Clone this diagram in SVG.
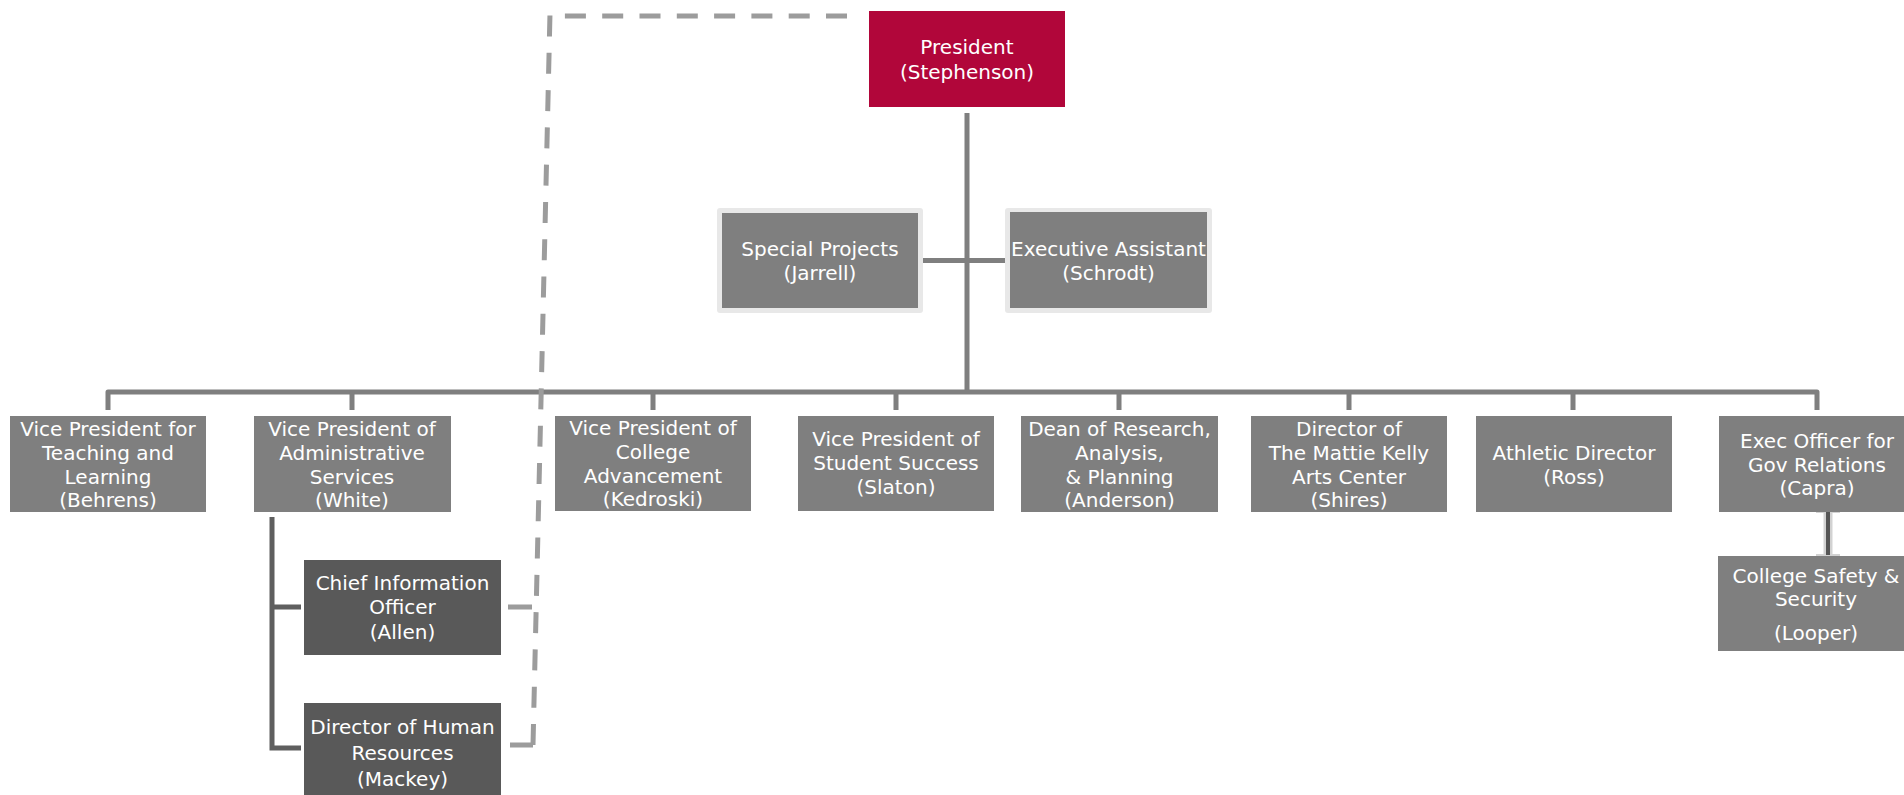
<svg xmlns="http://www.w3.org/2000/svg" width="1904" height="795" viewBox="0 0 1904 795">
<style>
.box{fill:#7f7f7f}
.dark{fill:#595959}
.pres{fill:#b1063a}
.halo{fill:#e8e8e8}
.t{font-family:"DejaVu Sans","Liberation Sans",sans-serif;font-size:20px;fill:#ffffff;text-anchor:middle}
.ln{stroke:#7f7f7f;stroke-width:5;fill:none;stroke-linejoin:round}
.dk{stroke:#5f5f5f;stroke-width:5;fill:none}
.dash{stroke:#9c9c9c;stroke-width:5;fill:none;stroke-dasharray:21 16.3}
.stub{stroke:#9c9c9c;stroke-width:5;fill:none}
</style>
<rect width="1904" height="795" fill="#ffffff"/>
<g id="connectors">
  <path class="ln" d="M967,113 V392"/>
  <path class="ln" d="M923,260.5 H1005"/>
  <path class="ln" d="M108,410 V392 H1817 V410"/>
  <path class="ln" d="M352,392 V410 M653,392 V410 M896,392 V410 M1119,392 V410 M1349,392 V410 M1573,392 V410"/>
  <path class="dk" d="M272,517 V748 H301 M272,607 H301"/>
  <path stroke="#d2d2d2" stroke-width="9" fill="none" d="M1828,512 V555"/>
  <path stroke="#d2d2d2" stroke-width="2" fill="none" d="M1816,512 H1840 M1816,555 H1840"/>
  <path stroke="#555555" stroke-width="4" fill="none" d="M1828,512 V555"/>
  <path class="dash" d="M533,745 L550,13"/>
  <path class="dash" d="M847,16 H550"/>
  <path class="stub" d="M508,607 H532 M510,745 H533"/>
</g>
<g id="president">
  <rect class="pres" x="869" y="11" width="196" height="96"/>
  <text class="t" x="967" y="54">President</text>
  <text class="t" x="967" y="79">(Stephenson)</text>
</g>
<g id="special-projects">
  <rect class="halo" x="717" y="208" width="206" height="105" rx="3"/>
  <rect class="box" x="722" y="213" width="196" height="95"/>
  <text class="t" x="820" y="256">Special Projects</text>
  <text class="t" x="820" y="280">(Jarrell)</text>
</g>
<g id="executive-assistant">
  <rect class="halo" x="1005" y="208" width="207" height="105" rx="3"/>
  <rect class="box" x="1010" y="212" width="197" height="96"/>
  <text class="t" x="1108.5" y="256">Executive Assistant</text>
  <text class="t" x="1108.5" y="280">(Schrodt)</text>
</g>
<g id="vp-teaching">
  <rect class="box" x="10" y="416" width="196" height="96"/>
  <text class="t" x="108" y="436">Vice President for</text>
  <text class="t" x="108" y="460">Teaching and</text>
  <text class="t" x="108" y="483.5">Learning</text>
  <text class="t" x="108" y="507">(Behrens)</text>
</g>
<g id="vp-admin">
  <rect class="box" x="254" y="416" width="197" height="96"/>
  <text class="t" x="352" y="436">Vice President of</text>
  <text class="t" x="352" y="460">Administrative</text>
  <text class="t" x="352" y="483.5">Services</text>
  <text class="t" x="352" y="507">(White)</text>
</g>
<g id="vp-advancement">
  <rect class="box" x="555" y="416" width="196" height="95"/>
  <text class="t" x="653" y="435">Vice President of</text>
  <text class="t" x="653" y="459">College</text>
  <text class="t" x="653" y="482.5">Advancement</text>
  <text class="t" x="653" y="506">(Kedroski)</text>
</g>
<g id="vp-student">
  <rect class="box" x="798" y="416" width="196" height="95"/>
  <text class="t" x="896" y="446">Vice President of</text>
  <text class="t" x="896" y="470">Student Success</text>
  <text class="t" x="896" y="494">(Slaton)</text>
</g>
<g id="dean-research">
  <rect class="box" x="1021" y="416" width="197" height="96"/>
  <text class="t" x="1119.5" y="436">Dean of Research,</text>
  <text class="t" x="1119.5" y="460">Analysis,</text>
  <text class="t" x="1119.5" y="483.5">&amp; Planning</text>
  <text class="t" x="1119.5" y="507">(Anderson)</text>
</g>
<g id="director-arts">
  <rect class="box" x="1251" y="416" width="196" height="96"/>
  <text class="t" x="1349" y="436">Director of</text>
  <text class="t" x="1349" y="460">The Mattie Kelly</text>
  <text class="t" x="1349" y="483.5">Arts Center</text>
  <text class="t" x="1349" y="507">(Shires)</text>
</g>
<g id="athletic-director">
  <rect class="box" x="1476" y="416" width="196" height="96"/>
  <text class="t" x="1574" y="460">Athletic Director</text>
  <text class="t" x="1574" y="483.5">(Ross)</text>
</g>
<g id="exec-gov">
  <rect class="box" x="1719" y="416" width="196" height="96"/>
  <text class="t" x="1817" y="448">Exec Officer for</text>
  <text class="t" x="1817" y="471.5">Gov Relations</text>
  <text class="t" x="1817" y="495">(Capra)</text>
</g>
<g id="college-safety">
  <rect class="box" x="1718" y="556" width="196" height="95"/>
  <text class="t" x="1816" y="583">College Safety &amp;</text>
  <text class="t" x="1816" y="606">Security</text>
  <text class="t" x="1816" y="640">(Looper)</text>
</g>
<g id="cio">
  <rect class="dark" x="304" y="560" width="197" height="95"/>
  <text class="t" x="402.5" y="590">Chief Information</text>
  <text class="t" x="402.5" y="614">Officer</text>
  <text class="t" x="402.5" y="639">(Allen)</text>
</g>
<g id="hr-director">
  <rect class="dark" x="304" y="703" width="197" height="95"/>
  <text class="t" x="402.5" y="734">Director of Human</text>
  <text class="t" x="402.5" y="760">Resources</text>
  <text class="t" x="402.5" y="786">(Mackey)</text>
</g>
</svg>
